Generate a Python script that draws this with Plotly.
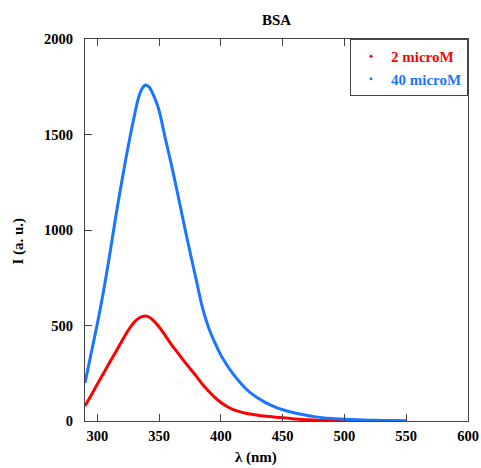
import plotly.graph_objects as go

# Wavelengths (nm) and intensities (a.u.)
wl_blue = [290, 295, 300, 305, 310, 315, 320, 325, 330, 333, 336, 339, 342, 345, 348, 350, 355, 360,
           365, 370, 375, 380, 385, 390, 395, 400, 405, 410, 415, 420, 425, 430, 435,
           440, 445, 450, 455, 460, 465, 470, 475, 480, 490, 500, 510, 520,
           530, 540, 550]
i_blue = [199, 355, 510, 680, 870, 1075, 1262, 1440, 1600, 1685, 1738, 1759, 1748, 1712, 1665, 1625, 1480, 1340,
          1190, 1035, 885, 740, 595, 490, 412, 345, 292, 245, 205, 170, 142, 120, 100,
          84, 70, 59, 50, 42, 35, 29, 23, 19, 13, 9, 6, 4,
          3, 2, 1]

wl_red = [290, 295, 300, 305, 310, 315, 320, 325, 330, 333, 336, 339, 342, 345, 350, 355, 360,
          365, 370, 375, 380, 385, 390, 395, 400, 405, 410, 415, 420, 425, 430, 435,
          440, 445, 450, 455, 460, 470, 480, 490, 500, 515]
i_red = [79, 135, 193, 250, 307, 363, 420, 475, 518, 536, 546, 550, 543, 528, 492, 447, 400,
         358, 315, 275, 235, 192, 157, 124, 97, 76, 60, 49, 41, 35, 30, 26,
         23, 20, 17, 14, 11, 6, 3, 2, 1, 0]

names = ["2 microM", "40 microM"]
colors = ["#ff0000", "#1a75ff"]

x_ticks = [300, 350, 400, 450, 500, 550, 600]
y_ticks = [0, 500, 1000, 1500, 2000]

FONT = "Liberation Serif"
AX = "#444"
W, H = 481, 468

fig = go.Figure()
for wl, inten, name, col in [(wl_red, i_red, names[0], colors[0]),
                             (wl_blue, i_blue, names[1], colors[1])]:
    fig.add_trace(go.Scatter(x=wl, y=inten, mode="lines",
                             line=dict(color=col, width=3, shape="spline", smoothing=0.8),
                             showlegend=False, hoverinfo="skip"))
    fig.add_trace(go.Scatter(x=[None], y=[None], mode="markers",
                             marker=dict(color=col, size=3),
                             name=f"<span style='color:{col}'><b>{name}</b></span>"))

fig.update_layout(
    width=W, height=H,
    margin=dict(l=85, r=13, t=39, b=47, autoexpand=False),
    paper_bgcolor="white", plot_bgcolor="white",
    font=dict(family=FONT, size=14.5, color="black"),
    title=dict(text="<b>BSA</b>", x=276.5 / W, xanchor="center",
               y=1 - 20 / H, yanchor="middle", font=dict(size=15)),
    legend=dict(x=1, y=1, xanchor="right", yanchor="top",
                bordercolor=AX, borderwidth=1, bgcolor="white",
                font=dict(family=FONT, size=15), itemwidth=30,
                tracegroupgap=0),
    showlegend=True,
)
fig.update_xaxes(range=[290, 600], tickvals=x_ticks, ticktext=[f"<b>{v}</b>" for v in x_ticks],
                 ticks="inside", ticklen=7, tickcolor=AX, mirror="ticks", automargin=False,
                 showline=True, linecolor=AX, linewidth=1, showgrid=False, zeroline=False,
                 title=dict(text="<b>λ (nm)</b>" + "&nbsp;" * 11, font=dict(size=15), standoff=8),
                 tickfont=dict(size=14.5), ticklabelstandoff=2)
fig.update_yaxes(range=[0, 2000], tickvals=y_ticks, ticktext=[f"<b>{v}</b>" for v in y_ticks],
                 ticks="inside", ticklen=7, tickcolor=AX, mirror=True, automargin=False,
                 showline=True, linecolor=AX, linewidth=1, showgrid=False, zeroline=False,
                 title=dict(text="<b>I (a. u.)</b>" + "&nbsp;" * 6, font=dict(size=15), standoff=16),
                 tickfont=dict(size=14.5), ticklabelstandoff=8)

fig.write_html("out.html", config={"displayModeBar": False},
               post_script="document.body.style.margin='0';document.body.style.overflow='hidden';")
